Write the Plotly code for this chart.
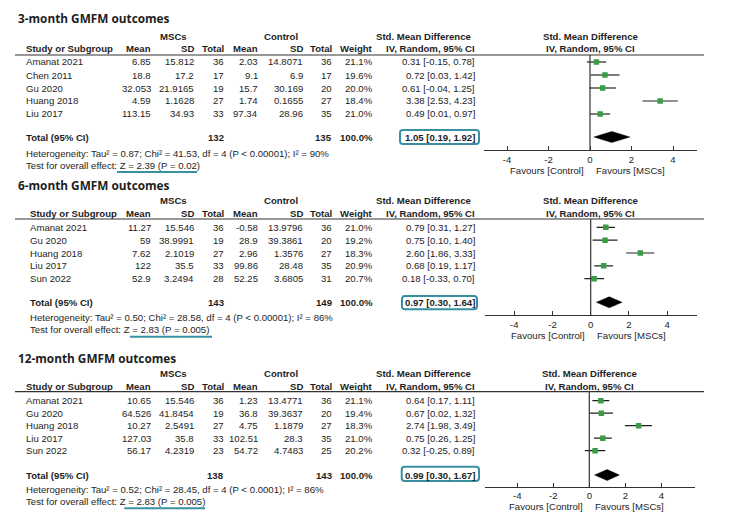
import plotly.graph_objects as go

# the page body keeps an 8px margin, so the figure is drawn 8px in from the corner
W, H = 729, 521
OFF = 8
FIG_W, FIG_H = W - 2 * OFF, H - 2 * OFF
FONT = "Arial, Liberation Sans, sans-serif"
TITLE_FONT = "Open Sans, sans-serif"
FS = 9.6
TEXT = "#1e1e1e"
GREEN = "#3a9d46"
TEAL = "#3a90a3"
AXIS = "#333333"

# ---- data -----------------------------------------------------------------
titles = ["3-month GMFM outcomes", "6-month GMFM outcomes", "12-month GMFM outcomes"]

studies_3m = ["Amanat 2021", "Chen 2011", "Gu 2020", "Huang 2018", "Liu 2017"]
msc_mean_3m = [6.85, 18.8, 32.053, 4.59, 113.15]
msc_sd_3m = [15.812, 17.2, 21.9165, 1.1628, 34.93]
msc_n_3m = [36, 17, 19, 27, 33]
ctl_mean_3m = [2.03, 9.1, 15.7, 1.74, 97.34]
ctl_sd_3m = [14.8071, 6.9, 30.169, 0.1655, 28.96]
ctl_n_3m = [36, 17, 20, 27, 35]
weight_3m = [21.1, 19.6, 20.0, 18.4, 21.0]
smd_3m = [0.31, 0.72, 0.61, 3.38, 0.49]
lo_3m = [-0.15, 0.03, -0.04, 2.53, 0.01]
hi_3m = [0.78, 1.42, 1.25, 4.23, 0.97]
total_3m = [132, 135, 1.05, 0.19, 1.92]
het_3m = ["0.87", "41.53", "4", "0.00001", "90"]
z_3m = ["2.39", "0.02"]

studies_6m = ["Amanat 2021", "Gu 2020", "Huang 2018", "Liu 2017", "Sun 2022"]
msc_mean_6m = [11.27, 59, 7.62, 122, 52.9]
msc_sd_6m = [15.546, 38.9991, 2.1019, 35.5, 3.2494]
msc_n_6m = [36, 19, 27, 33, 28]
ctl_mean_6m = [-0.58, 28.9, 2.96, 99.86, 52.25]
ctl_sd_6m = [13.9796, 39.3861, 1.3576, 28.48, 3.6805]
ctl_n_6m = [36, 20, 27, 35, 31]
weight_6m = [21.0, 19.2, 18.3, 20.9, 20.7]
smd_6m = [0.79, 0.75, 2.60, 0.68, 0.18]
lo_6m = [0.31, 0.10, 1.86, 0.19, -0.33]
hi_6m = [1.27, 1.40, 3.33, 1.17, 0.70]
total_6m = [143, 149, 0.97, 0.30, 1.64]
het_6m = ["0.50", "28.58", "4", "0.00001", "86"]
z_6m = ["2.83", "0.005"]

studies_12m = ["Amanat 2021", "Gu 2020", "Huang 2018", "Liu 2017", "Sun 2022"]
msc_mean_12m = [10.65, 64.526, 10.27, 127.03, 56.17]
msc_sd_12m = [15.546, 41.8454, 2.5491, 35.8, 4.2319]
msc_n_12m = [36, 19, 27, 33, 23]
ctl_mean_12m = [1.23, 36.8, 4.75, 102.51, 54.72]
ctl_sd_12m = [13.4771, 39.3637, 1.1879, 28.3, 4.7483]
ctl_n_12m = [36, 20, 27, 35, 25]
weight_12m = [21.1, 19.4, 18.3, 21.0, 20.2]
smd_12m = [0.64, 0.67, 2.74, 0.75, 0.32]
lo_12m = [0.17, 0.02, 1.98, 0.26, -0.25]
hi_12m = [1.11, 1.32, 3.49, 1.25, 0.89]
total_12m = [138, 143, 0.99, 0.30, 1.67]
het_12m = ["0.52", "28.45", "4", "0.0001", "86"]
z_12m = ["2.83", "0.005"]

tick_vals = [-4, -2, 0, 2, 4]
tick_text = ["-4", "-2", "0", "2", "4"]

panels = [
    (studies_3m, msc_mean_3m, msc_sd_3m, msc_n_3m, ctl_mean_3m, ctl_sd_3m, ctl_n_3m,
     weight_3m, smd_3m, lo_3m, hi_3m, total_3m, het_3m, z_3m),
    (studies_6m, msc_mean_6m, msc_sd_6m, msc_n_6m, ctl_mean_6m, ctl_sd_6m, ctl_n_6m,
     weight_6m, smd_6m, lo_6m, hi_6m, total_6m, het_6m, z_6m),
    (studies_12m, msc_mean_12m, msc_sd_12m, msc_n_12m, ctl_mean_12m, ctl_sd_12m, ctl_n_12m,
     weight_12m, smd_12m, lo_12m, hi_12m, total_12m, het_12m, z_12m),
]

# ---- pixel geometry of each panel (window pixels) -------------------------
geo = [
    dict(title=18, h1=36, h2=49, line=55, row0=62, step=13, total=137, het=153, test=165,
         left=23.5, axis=150, ax0=484, ax1=697, zero=590, unit=20.75,
         box=(400, 130, 479, 144), ul=(117, 197, 172)),
    dict(title=185, h1=200.7, h2=213.3, line=219, row0=227.3, step=12.85, total=302.3,
         het=317, test=329.3, left=28, axis=315, ax0=485, ax1=696.7, zero=590.7, unit=19.1,
         box=(402, 296, 477, 309.3), ul=(130, 212, 336.7)),
    dict(title=358.3, h1=373.3, h2=386, line=391.7, row0=400.7, step=12.5, total=475,
         het=489, test=501.7, left=23.5, axis=486.7, ax0=485, ax1=695.3, zero=589.3, unit=18,
         box=(401.7, 466.7, 479, 481), ul=(124.3, 205, 508.3)),
]

# right edges of table columns
cols = [152.5, 196, 226, 260, 305, 333.5, 374.5, 477]


def X(p):
    return (p - OFF) / FIG_W


def Y(p):
    return 1 - (p - OFF) / FIG_H


annotations = []
shapes = []


def txt(s, x, y, anchor="left", bold=False, size=FS, family=FONT):
    annotations.append(dict(
        text=f"<b>{s}</b>" if bold else s, x=X(x), y=Y(y), xref="paper", yref="paper",
        xanchor=anchor, yanchor="middle", showarrow=False,
        font=dict(size=size, family=family, color=TEXT)))


def rounded_box(x0, y0, x1, y1, r=3):
    # rectangle with rounded corners, in paper coordinates
    rx, ry = r / FIG_W, r / FIG_H
    a, b, c, d = X(x0), X(x1), Y(y0), Y(y1)  # c top, d bottom
    path = (f"M {a + rx},{c} L {b - rx},{c} Q {b},{c} {b},{c - ry} "
            f"L {b},{d + ry} Q {b},{d} {b - rx},{d} L {a + rx},{d} "
            f"Q {a},{d} {a},{d + ry} L {a},{c - ry} Q {a},{c} {a + rx},{c} Z")
    return dict(type="path", xref="paper", yref="paper", path=path,
                line=dict(color=TEAL, width=2))


fig = go.Figure()
layout_axes = {}

for k, (data, g) in enumerate(zip(panels, geo)):
    (studies, m1, s1, n1, m2, s2, n2, wt, est, lo, hi, tot, het, z) = data
    ax = "" if k == 0 else str(k + 1)

    # titles and headers
    txt(titles[k], 15.5, g["title"], bold=True, size=11.8, family=TITLE_FONT)
    txt("MSCs", 173, g["h1"], "center", bold=True)
    txt("Control", 281, g["h1"], "center", bold=True)
    txt("Std. Mean Difference", cols[7] - 4, g["h1"], "right", bold=True)
    txt("Std. Mean Difference", g["zero"], g["h1"], "center", bold=True)
    txt("Study or Subgroup", g["left"], g["h2"], bold=True)
    for c, h in zip(cols, ["Mean", "SD", "Total", "Mean", "SD", "Total", "Weight",
                           "IV, Random, 95% CI"]):
        txt(h, c, g["h2"], "right", bold=True)
    txt("IV, Random, 95% CI", g["zero"], g["h2"], "center", bold=True)
    shapes.append(dict(type="line", xref="paper", yref="paper", x0=X(15), x1=X(704),
                       y0=Y(g["line"]), y1=Y(g["line"]), line=dict(color=AXIS, width=1.2)))

    # study rows
    for i, s in enumerate(studies):
        y = g["row0"] + i * g["step"]
        txt(s, g["left"], y)
        vals = [f"{m1[i]:g}", f"{s1[i]:g}", str(n1[i]), f"{m2[i]:g}", f"{s2[i]:g}",
                str(n2[i]), f"{wt[i]:.1f}%",
                f"{est[i]:.2f} [{lo[i]:.2f}, {hi[i]:.2f}]"]
        for c, v in zip(cols, vals):
            txt(v, c, y, "right")

    # total row
    txt("Total (95% CI)", g["left"], g["total"], bold=True)
    txt(str(tot[0]), cols[2], g["total"], "right", bold=True)
    txt(str(tot[1]), cols[5], g["total"], "right", bold=True)
    txt("100.0%", cols[6], g["total"], "right", bold=True)
    txt(f"{tot[2]:.2f} [{tot[3]:.2f}, {tot[4]:.2f}]", cols[7], g["total"], "right", bold=True)
    shapes.append(rounded_box(*g["box"]))

    txt(f"Heterogeneity: Tau² = {het[0]}; Chi² = {het[1]}, df = {het[2]} "
        f"(P &lt; {het[3]}); I² = {het[4]}%", g["left"], g["het"])
    txt(f"Test for overall effect: Z = {z[0]} (P = {z[1]})", g["left"], g["test"])
    ul = g["ul"]
    shapes.append(dict(type="line", xref="paper", yref="paper", x0=X(ul[0]), x1=X(ul[1]),
                       y0=Y(ul[2]), y1=Y(ul[2]), line=dict(color=TEAL, width=2)))

    # forest plot axes
    xr = [(g["ax0"] - g["zero"]) / g["unit"], (g["ax1"] - g["zero"]) / g["unit"]]
    yr = [(g["axis"] - g["row0"]) / g["step"], (g["line"] - g["row0"]) / g["step"]]
    layout_axes["xaxis" + ax] = dict(
        domain=[X(g["ax0"]), X(g["ax1"])], range=xr, anchor="y" + ax,
        showline=True, linecolor=AXIS, linewidth=1.3, ticks="inside", ticklen=4,
        tickcolor=AXIS, tickvals=tick_vals, ticktext=tick_text, showgrid=False,
        zeroline=False, fixedrange=True,
        tickfont=dict(size=FS, family=FONT, color=TEXT))
    layout_axes["yaxis" + ax] = dict(
        domain=[Y(g["axis"]), Y(g["line"])], range=yr, anchor="x" + ax,
        visible=False, fixedrange=True)

    shapes.append(dict(type="line", xref="x" + ax, yref="paper", x0=0, x1=0,
                       y0=Y(g["axis"]), y1=Y(g["line"]), line=dict(color=AXIS, width=1.2)))

    rows = list(range(len(studies)))
    fig.add_trace(go.Scatter(
        x=est, y=rows, xaxis="x" + ax, yaxis="y" + ax, mode="markers",
        marker=dict(symbol="square", size=5.5, color=GREEN, line=dict(width=0)),
        error_x=dict(type="data", symmetric=False,
                     array=[h - e for h, e in zip(hi, est)],
                     arrayminus=[e - l for e, l in zip(est, lo)],
                     width=0, thickness=1.2, color="#222222"),
        showlegend=False, hoverinfo="skip"))

    ty = (g["total"] - g["row0"]) / g["step"]
    dh = 5.5 / g["step"]
    fig.add_trace(go.Scatter(
        x=[tot[3], tot[2], tot[4], tot[2], tot[3]], y=[ty, ty - dh, ty, ty + dh, ty],
        xaxis="x" + ax, yaxis="y" + ax, mode="lines", fill="toself",
        fillcolor="black", line=dict(color="black", width=0.5),
        showlegend=False, hoverinfo="skip"))

    fav_y = g["axis"] + 20
    txt("Favours [Control]", g["zero"] - 4, fav_y, "right")
    txt("Favours [MSCs]", g["zero"] + 4, fav_y, "left")

fig.update_layout(
    width=FIG_W, height=FIG_H, margin=dict(l=0, r=0, t=0, b=0),
    paper_bgcolor="white", plot_bgcolor="white",
    annotations=annotations, shapes=shapes, showlegend=False,
    **layout_axes)

fig.write_html("out.html")
